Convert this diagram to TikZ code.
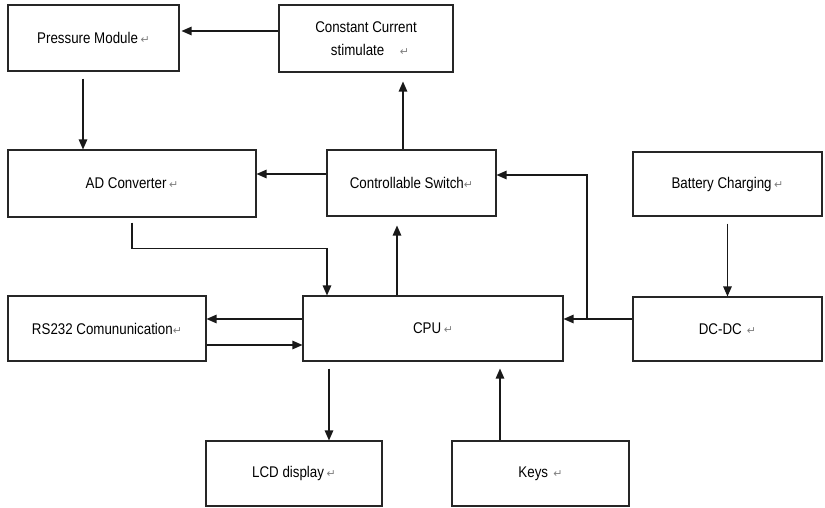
\documentclass[tikz,border=0pt]{standalone}
\usepackage{fontspec}
\setmainfont{Liberation Sans}[FakeStretch=0.86]
\newfontfamily\symf{DejaVu Sans}
\usetikzlibrary{arrows.meta}
\newcommand\rmark{{\symf\color{black!50}\fontsize{11}{11}\selectfont ↵}}
\begin{document}
\begin{tikzpicture}[x=1pt,y=-1pt,
  box/.style={draw=black!85,line width=1.1pt,inner sep=0pt,font=\fontsize{15.5}{26}\selectfont},
  arr/.style={draw=black!90,line width=1.2pt,-{Triangle[length=10pt,width=8.5pt]}}]
\useasboundingbox (0,0) rectangle (825,508);
\node[box,minimum width=171pt,minimum height=66pt] (pm) at (93.5,38) {Pressure Module\,\rmark};
\node[box,minimum width=174pt,minimum height=67pt,align=center] (cc) at (366,38.5) {Constant Current\\[-3pt]\hspace*{8pt}stimulate\quad\rmark};
\node[box,minimum width=248pt,minimum height=67pt] (ad) at (132,183.5) {AD Converter\,\rmark};
\node[box,minimum width=169pt,minimum height=66pt] (cs) at (411.5,183) {Controllable Switch\rmark};
\node[box,minimum width=189pt,minimum height=64pt] (bc) at (727.5,184) {Battery Charging\,\rmark};
\node[box,minimum width=198pt,minimum height=65pt] (rs) at (107,328.5) {RS232 Comununication\rmark};
\node[box,minimum width=260pt,minimum height=65pt] (cpu) at (433,328.5) {CPU\,\rmark};
\node[box,minimum width=189pt,minimum height=64pt] (dc) at (727.5,329) {DC-DC\,\,\rmark};
\node[box,minimum width=176pt,minimum height=65pt] (lcd) at (294,473.5) {LCD display\,\rmark};
\node[box,minimum width=177pt,minimum height=65pt] (keys) at (540.5,473.5) {Keys\,\,\rmark};
\coordinate (j) at (587,319);
% connectors
\draw[arr,shorten >=2pt] ([yshift=7.5pt]cc.west) -- ([yshift=7.5pt]cc.west -| pm.east);
\draw[arr,shorten <=7pt] ([xshift=-10.5pt]pm.south) -- ([xshift=-10.5pt]pm.south |- ad.north);
\draw[arr] ([yshift=9pt]cs.west) -- ([yshift=9pt]cs.west -| ad.east);
\draw[arr,shorten >=9pt] ([xshift=-8.5pt]cs.north) -- ([xshift=-8.5pt]cs.north |- cc.south);
\draw[arr,shorten >=9pt] ([xshift=-36pt]cpu.north) -- ([xshift=-36pt]cpu.north |- cs.south);
\draw[arr,shorten <=5pt] (ad.south) -- ++(0,31) -| ([xshift=-106pt]cpu.north);
\draw[arr,shorten <=7pt] (bc.south) -- (bc.south |- dc.north);
\draw[arr] ([yshift=10pt]dc.west) -- ([yshift=10pt]dc.west -| cpu.east);
\draw[arr] (j) |- ([yshift=8pt]cs.east);
\draw[arr] ([yshift=9.5pt]cpu.west) -- ([yshift=9.5pt]cpu.west -| rs.east);
\draw[arr] ([yshift=-16.5pt]rs.east) -- ([yshift=-16.5pt]rs.east -| cpu.west);
\draw[arr,shorten <=7pt] ([xshift=-104pt]cpu.south) -- ([xshift=-104pt]cpu.south |- lcd.north);
\draw[arr,shorten >=7pt] ([xshift=-40.5pt]keys.north) -- ([xshift=-40.5pt]keys.north |- cpu.south);
\end{tikzpicture}
\end{document}
